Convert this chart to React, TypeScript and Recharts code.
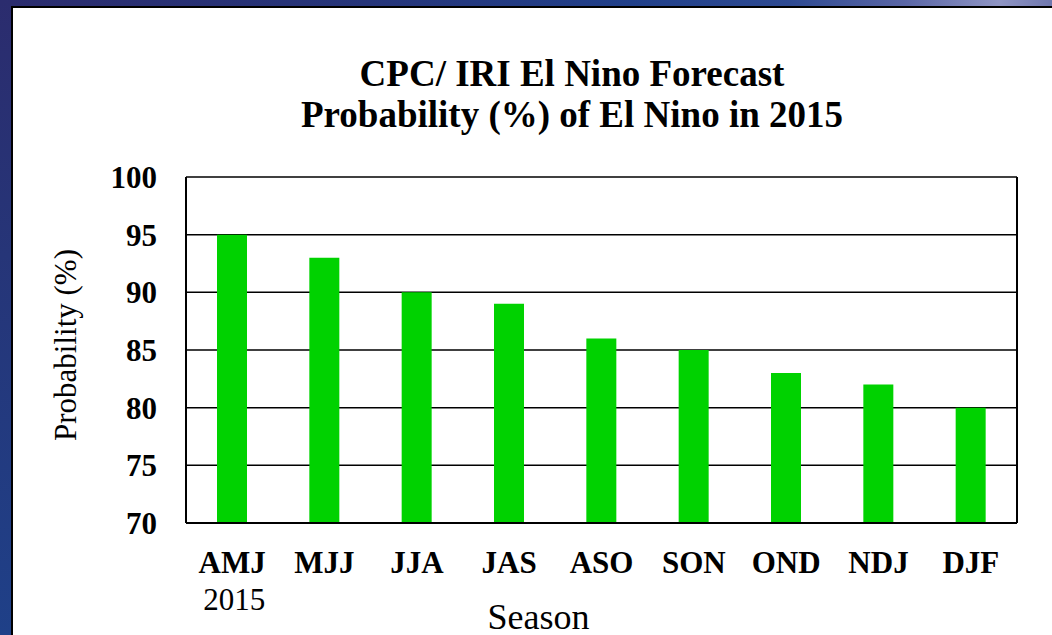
import React from 'react';
import { BarChart, Bar, XAxis, YAxis, CartesianGrid } from 'recharts';

const seasons = ['AMJ', 'MJJ', 'JJA', 'JAS', 'ASO', 'SON', 'OND', 'NDJ', 'DJF'];
const yearLabels = ['2015', '', '', '', '', '', '', '', ''];
const probabilities = [95, 93, 90, 89, 86, 85, 83, 82, 80];
const yTicks = [70, 75, 80, 85, 90, 95, 100];
const titleLines = ['CPC/ IRI El Nino Forecast', 'Probability (%) of El Nino in 2015'];
const xAxisTitle = 'Season';
const yAxisTitle = 'Probability (%)';

const data = seasons.map((s, i) => ({ season: s, year: yearLabels[i], value: probabilities[i] }));

const FONT = '"Liberation Serif", "Times New Roman", Times, serif';

function SeasonTick(props: any) {
  const { x, y, payload, index } = props;
  const sub = yearLabels[index];
  return (
    <g>
      <text x={x} y={y} dy={50} textAnchor="middle" fontFamily={FONT} fontWeight="bold" fontSize={31} fill="#000">
        {payload.value}
      </text>
      {sub ? (
        <text x={x + 2} y={y} dy={87} textAnchor="middle" fontFamily={FONT} fontSize={31} fill="#000">
          {sub}
        </text>
      ) : null}
    </g>
  );
}

function ValueTick(props: any) {
  const { x, y, payload } = props;
  return (
    <text x={x} y={y} dy={11} textAnchor="end" fontFamily={FONT} fontWeight="bold" fontSize={31} fill="#000">
      {payload.value}
    </text>
  );
}

function YTitle(props: any) {
  const vb = props.viewBox || { x: 0, y: 177, width: 186, height: 346 };
  const cx = vb.x + 76;
  const cy = vb.y + vb.height / 2 - 5;
  return (
    <text
      x={0}
      y={0}
      transform={`translate(${cx}, ${cy}) rotate(-90)`}
      textAnchor="middle"
      fontFamily={FONT}
      fontSize={31}
      fill="#000"
    >
      {yAxisTitle}
    </text>
  );
}

function XTitle(props: any) {
  const vb = props.viewBox || { x: 186, y: 523, width: 831, height: 112 };
  return (
    <text
      x={vb.x + vb.width / 2 - 63}
      y={vb.y + vb.height - 6}
      textAnchor="middle"
      fontFamily={FONT}
      fontSize={36}
      fill="#000"
    >
      {xAxisTitle}
    </text>
  );
}

export default function App() {
  return (
    <div
      style={{
        position: 'fixed',
        left: 0,
        top: 0,
        width: 1052,
        height: 635,
        overflow: 'hidden',
        background: '#fff',
      }}
    >
      <div
        style={{
          position: 'absolute',
          left: 0,
          top: 0,
          width: 1052,
          height: 8,
          background:
            'linear-gradient(90deg, #2b2c6e 0%, #26357a 35%, #21408a 60%, #2e4a92 75%, #5a66a6 86%, #8f95c4 95%, #6f77ae 100%)',
        }}
      />
      <div
        style={{
          position: 'absolute',
          left: 0,
          top: 0,
          width: 13,
          height: 635,
          background: 'linear-gradient(180deg, #2b2c6e 0%, #263578 40%, #1f4088 100%)',
        }}
      />
      <div
        style={{
          position: 'absolute',
          left: 11,
          top: 6,
          width: 1052 - 11,
          height: 635 - 6,
          boxSizing: 'border-box',
          borderLeft: '2px solid #000',
          borderTop: '2px solid #000',
          background: '#fff',
        }}
      />
      <div style={{ position: 'absolute', left: 0, top: 0 }}>
        <BarChart width={1052} height={635} data={data} margin={{ top: 177, right: 0, left: 0, bottom: 0 }}>
          <CartesianGrid horizontal={true} vertical={false} stroke="#000" strokeWidth={1.5} />
          <XAxis
            dataKey="season"
            height={112}
            tickLine={false}
            tickSize={0}
            tickMargin={0}
            axisLine={{ stroke: '#000', strokeWidth: 2 }}
            tick={<SeasonTick />}
            interval={0}
            label={<XTitle />}
          />
          <YAxis
            width={186}
            domain={[70, 100]}
            ticks={yTicks}
            interval={0}
            tickLine={false}
            tickSize={0}
            tickMargin={29}
            axisLine={{ stroke: '#000', strokeWidth: 2 }}
            tick={<ValueTick />}
            label={<YTitle />}
          />
          <YAxis
            yAxisId="r"
            orientation="right"
            width={35}
            domain={[70, 100]}
            tick={false}
            tickLine={false}
            axisLine={{ stroke: '#000', strokeWidth: 2 }}
          />
          <Bar dataKey="value" fill="#00d200" barSize={30} isAnimationActive={false} />
        </BarChart>
      </div>
      <div
        style={{
          position: 'absolute',
          left: 572,
          top: 53,
          transform: 'translateX(-50%)',
          whiteSpace: 'nowrap',
          textAlign: 'center',
          fontFamily: FONT,
          fontWeight: 'bold',
          fontSize: 37,
          lineHeight: '41px',
          color: '#000',
        }}
      >
        {titleLines.map((t, i) => (
          <div key={i}>{t}</div>
        ))}
      </div>
    </div>
  );
}
